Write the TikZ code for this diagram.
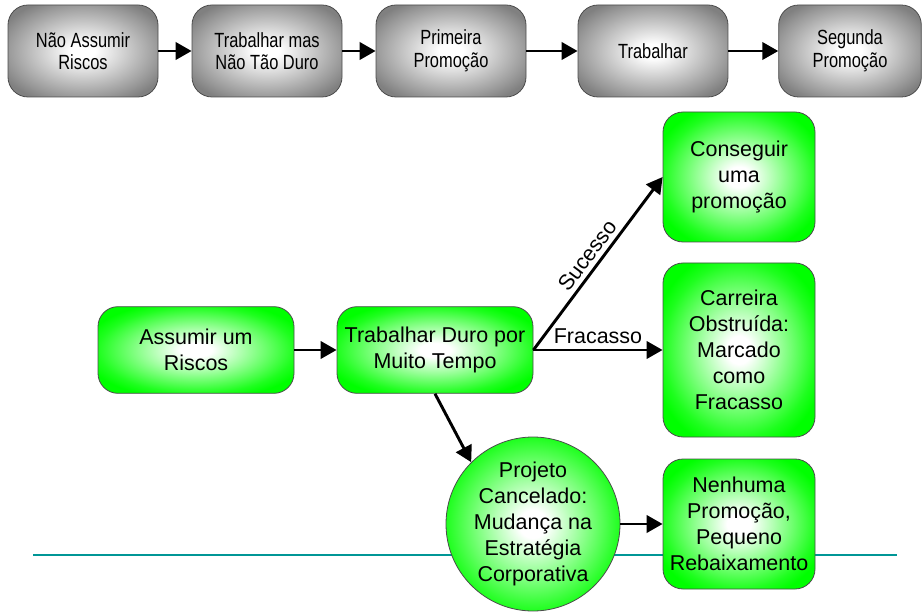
\documentclass[tikz,border=0pt]{standalone}
\usepackage{fontspec}
\setmainfont{Liberation Sans}
\newfontfamily\estreita[FakeStretch=0.8]{Liberation Sans}
\usetikzlibrary{arrows.meta}
\definecolor{verdevivo}{RGB}{0,255,0}
\definecolor{cinzaborda}{RGB}{128,128,128}
\definecolor{azulpetroleo}{RGB}{0,150,150}
\pgfdeclareradialshading{sombragris}{\pgfpoint{0bp}{0bp}}{%
  color(0bp)=(white); color(4bp)=(white); color(25bp)=(cinzaborda!80!white);
  color(30bp)=(cinzaborda); color(50bp)=(cinzaborda)}
\pgfdeclareradialshading{sombraverde}{\pgfpoint{0bp}{0bp}}{%
  color(0bp)=(white); color(4bp)=(white); color(25bp)=(verdevivo!88!white);
  color(29bp)=(verdevivo); color(50bp)=(verdevivo)}
\tikzset{
  grisbox/.style={rounded corners=15pt,draw=black!70,line width=0.6pt,
    shading=sombragris,minimum width=112.5pt,
    minimum height=69pt,inner sep=0pt,align=center,
    font=\estreita\fontsize{15.4}{17}\selectfont},
  verdebox/.style={rounded corners=15pt,draw=black!70,line width=0.6pt,
    shading=sombraverde,inner sep=0pt,align=center,
    font=\fontsize{16.1}{19.5}\selectfont},
  verdecirc/.style={circle,draw=black!70,line width=0.6pt,
    shading=sombraverde,minimum size=130.5pt,
    inner sep=0pt,align=center,font=\fontsize{16.1}{19.5}\selectfont},
  seta/.style={line width=2.2pt,-{Triangle[length=12pt,width=13pt]}},
  rotulo/.style={font=\fontsize{16.1}{19.5}\selectfont}
}
\begin{document}
\begin{tikzpicture}[x=0.75pt,y=-0.75pt]
    \useasboundingbox (0,0) rectangle (924,616);
    %% linha de fundo
    \coordinate (linhaA) at (33,555);
    \coordinate (linhaB) at (897,555);
    \draw[azulpetroleo,line width=1.5pt] (linhaA) -- (linhaB);
    %% caminho sem riscos
    \node[grisbox] (naoassumir) at (83,51) {Não Assumir\\Riscos};
    \node[grisbox] (naoduro) at (267,51) {Trabalhar mas\\Não Tão Duro};
    \node[grisbox] (primeira) at (451,51) {Primeira\\Promoção};
    \node[grisbox] (trabalhar) at (653,51) {Trabalhar};
    \node[grisbox,minimum width=107pt] (segunda) at (850,51) {Segunda\\Promoção};
    \draw[seta] (naoassumir) -- (naoduro);
    \draw[seta] (naoduro) -- (primeira);
    \draw[seta] (primeira) -- (trabalhar);
    \draw[seta] (trabalhar) -- (segunda);
    %% caminho com riscos
    \node[verdebox,minimum width=147pt,minimum height=65pt] (assumir) at (196,350) {Assumir um\\Riscos};
    \node[verdebox,minimum width=147pt,minimum height=65pt] (duro) at (435,350) {Trabalhar Duro por\\Muito Tempo};
    \node[verdebox,minimum width=114pt,minimum height=97.5pt] (conseguir) at (739,177) {Conseguir\\uma\\promoção};
    \node[verdebox,minimum width=114pt,minimum height=130.5pt] (carreira) at (739,350) {Carreira\\Obstruída:\\Marcado\\como\\Fracasso};
    \node[verdecirc] (projeto) at (533,524) {Projeto\\Cancelado:\\Mudança na\\Estratégia\\Corporativa};
    \node[verdebox,minimum width=114pt,minimum height=97.5pt] (nenhuma) at (739,524) {Nenhuma\\Promoção,\\Pequeno\\Rebaixamento};
    \draw[seta] (assumir) -- (duro);
    \draw[seta] (duro.east) -- node[rotulo,sloped,above] {Sucesso} (conseguir.west);
    \draw[seta] (duro.east) -- node[rotulo,above] {Fracasso} (carreira.west);
    \draw[seta] (duro.south) -- (projeto.135);
    \draw[seta] (projeto) -- (nenhuma);
\end{tikzpicture}
\end{document}
